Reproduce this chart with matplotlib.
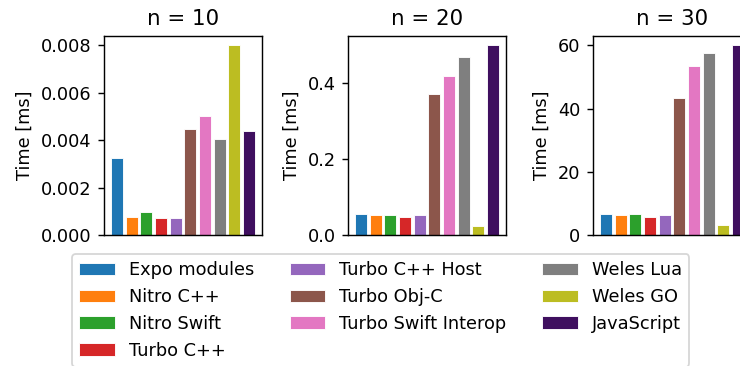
import matplotlib
matplotlib.use("Agg")
import matplotlib.pyplot as plt
import numpy as np

labels = [
    "Expo modules", "Nitro C++", "Nitro Swift", "Turbo C++", "Turbo C++ Host",
    "Turbo Obj-C", "Turbo Swift Interop", "Weles Lua", "Weles GO", "JavaScript",
]
colors = [
    "#1f77b4", "#ff7f0e", "#2ca02c", "#d62728", "#9467bd",
    "#8c564b", "#e377c2", "#7f7f7f", "#bcbd22", "#3f0f5f",
]
sizes = [10, 20, 30]
times_n10 = [0.00327, 0.00078, 0.00095, 0.00072, 0.00072,
             0.00448, 0.00503, 0.00404, 0.00800, 0.00438]
times_n20 = [0.056, 0.052, 0.052, 0.048, 0.052,
             0.371, 0.419, 0.470, 0.024, 0.500]
times_n30 = [6.6, 6.2, 6.6, 5.75, 6.2,
             43.5, 53.4, 57.5, 3.3, 60.0]
all_times = [times_n10, times_n20, times_n30]

# picture is 740x366 px; rendered at 128 dpi so text scales like the original
W, H, DPI = 740, 366, 128
fig = plt.figure(figsize=(W / DPI, H / DPI), dpi=DPI)

lefts = [104, 348, 593]
x = np.arange(len(labels))
handles = None
for left, n, times in zip(lefts, sizes, all_times):
    ax = fig.add_axes([left / W, 1 - 235 / H, 158 / W, 199 / H])
    bars = ax.bar(x, times, width=0.8, color=colors,
                  edgecolor="white", linewidth=0.5)
    ax.set_title(f"n = {n}")
    ax.set_ylabel("Time [ms]")
    ax.set_xticks([])
    handles = bars

fig.legend(handles, labels, ncol=3, loc="upper left",
           bbox_to_anchor=(72 / W, 1 - 254 / H), borderaxespad=0)

fig.savefig("out.png", dpi=DPI)
